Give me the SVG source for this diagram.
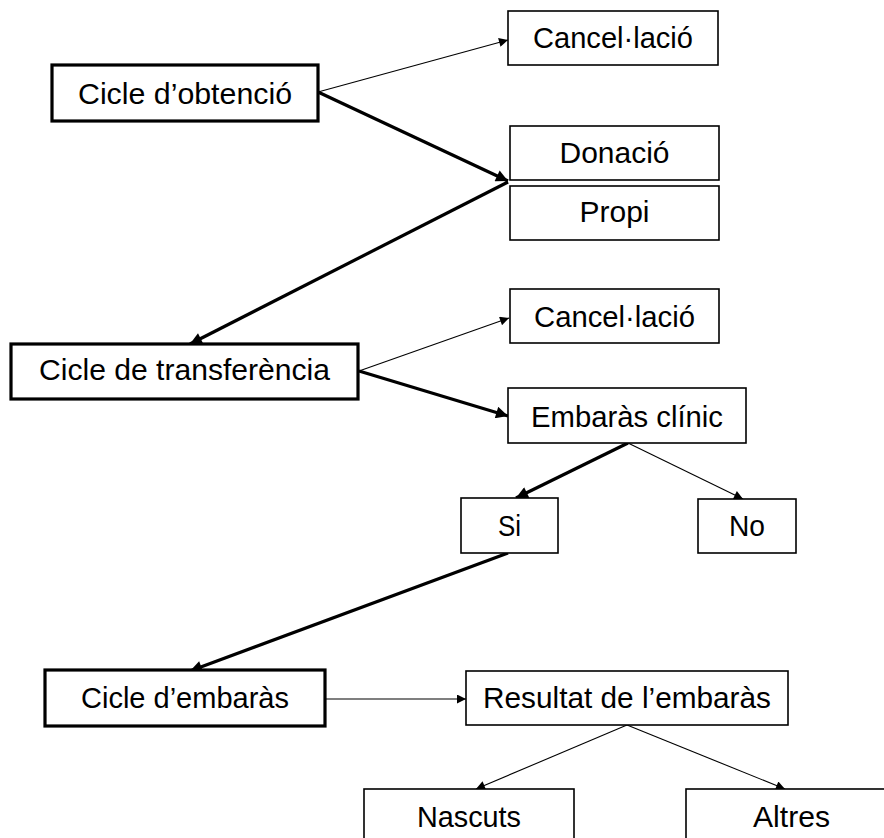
<svg xmlns="http://www.w3.org/2000/svg" width="884" height="838" viewBox="0 0 884 838">
  <style>
    .box { fill: #ffffff; stroke: #000000; stroke-width: 1.6; }
    .thick { stroke-width: 3.2; }
    .lbl { font-family: "Liberation Sans", Arial, sans-serif; font-size: 30px; fill: #000000; text-anchor: middle; }
    .ln { fill: none; stroke: #000000; stroke-width: 1.1; }
    .lnb { fill: none; stroke: #000000; stroke-width: 3.2; }
  </style>
  <defs>
    <marker id="ah" viewBox="0 0 10 10" refX="10" refY="5" markerWidth="11" markerHeight="9" markerUnits="userSpaceOnUse" orient="auto">
      <path d="M0,0 L10,5 L0,10 z" fill="#000000"/>
    </marker>
    <marker id="ahb" viewBox="0 0 10 10" refX="10" refY="5" markerWidth="14" markerHeight="12" markerUnits="userSpaceOnUse" orient="auto">
      <path d="M0,0 L10,5 L0,10 z" fill="#000000"/>
    </marker>
  </defs>
  <rect width="884" height="838" fill="#ffffff"/>

  <g id="connectors">
    <line class="ln" x1="318" y1="92" x2="508" y2="40" marker-end="url(#ah)"/>
    <line class="lnb" x1="318" y1="92" x2="508" y2="181" marker-end="url(#ahb)"/>
    <line class="lnb" x1="508" y1="182" x2="190" y2="344" marker-end="url(#ahb)"/>
    <line class="ln" x1="359" y1="371" x2="509" y2="318" marker-end="url(#ah)"/>
    <line class="lnb" x1="359" y1="371" x2="508" y2="416" marker-end="url(#ahb)"/>
    <line class="lnb" x1="628" y1="443" x2="516" y2="498" marker-end="url(#ahb)"/>
    <line class="ln" x1="628" y1="443" x2="743" y2="499" marker-end="url(#ah)"/>
    <line class="lnb" x1="508" y1="553" x2="190" y2="671" marker-end="url(#ahb)"/>
    <line class="ln" x1="325" y1="699" x2="466" y2="699" marker-end="url(#ah)"/>
    <line class="ln" x1="627" y1="725" x2="476" y2="789" marker-end="url(#ah)"/>
    <line class="ln" x1="627" y1="725" x2="785" y2="789" marker-end="url(#ah)"/>
  </g>

  <g id="node-obtencio">
    <rect class="box thick" x="52" y="65" width="266" height="56"/>
    <text class="lbl" x="185" y="104" textLength="214" lengthAdjust="spacingAndGlyphs">Cicle d’obtenció</text>
  </g>
  <g id="node-cancelacio1">
    <rect class="box" x="508" y="11" width="210" height="54"/>
    <text class="lbl" x="613" y="48" textLength="160" lengthAdjust="spacingAndGlyphs">Cancel·lació</text>
  </g>
  <g id="node-donacio">
    <rect class="box" x="510" y="126" width="209" height="54"/>
    <text class="lbl" x="614.5" y="163" textLength="110" lengthAdjust="spacingAndGlyphs">Donació</text>
  </g>
  <g id="node-propi">
    <rect class="box" x="510" y="186" width="209" height="54"/>
    <text class="lbl" x="614.5" y="222" textLength="70" lengthAdjust="spacingAndGlyphs">Propi</text>
  </g>
  <g id="node-transferencia">
    <rect class="box thick" x="11" y="344" width="347" height="55"/>
    <text class="lbl" x="184.5" y="380" textLength="291" lengthAdjust="spacingAndGlyphs">Cicle de transferència</text>
  </g>
  <g id="node-cancelacio2">
    <rect class="box" x="510" y="289" width="209" height="54"/>
    <text class="lbl" x="614.5" y="327" textLength="161" lengthAdjust="spacingAndGlyphs">Cancel·lació</text>
  </g>
  <g id="node-embaras-clinic">
    <rect class="box" x="508" y="388" width="238" height="55"/>
    <text class="lbl" x="627" y="427" textLength="192" lengthAdjust="spacingAndGlyphs">Embaràs clínic</text>
  </g>
  <g id="node-si">
    <rect class="box" x="461" y="498" width="97" height="55"/>
    <text class="lbl" x="509.5" y="536" textLength="23" lengthAdjust="spacingAndGlyphs">Si</text>
  </g>
  <g id="node-no">
    <rect class="box" x="698" y="499" width="98" height="54"/>
    <text class="lbl" x="747" y="536" textLength="36" lengthAdjust="spacingAndGlyphs">No</text>
  </g>
  <g id="node-cicle-embaras">
    <rect class="box thick" x="45" y="670" width="280" height="56"/>
    <text class="lbl" x="185" y="708" textLength="208" lengthAdjust="spacingAndGlyphs">Cicle d’embaràs</text>
  </g>
  <g id="node-resultat">
    <rect class="box" x="466" y="671" width="322" height="54"/>
    <text class="lbl" x="627" y="708" textLength="288" lengthAdjust="spacingAndGlyphs">Resultat de l’embaràs</text>
  </g>
  <g id="node-nascuts">
    <rect class="box" x="364" y="789" width="210" height="60"/>
    <text class="lbl" x="469" y="827" textLength="104" lengthAdjust="spacingAndGlyphs">Nascuts</text>
  </g>
  <g id="node-altres">
    <rect class="box" x="686" y="789" width="210" height="60"/>
    <text class="lbl" x="791.5" y="827" textLength="77" lengthAdjust="spacingAndGlyphs">Altres</text>
  </g>
</svg>
